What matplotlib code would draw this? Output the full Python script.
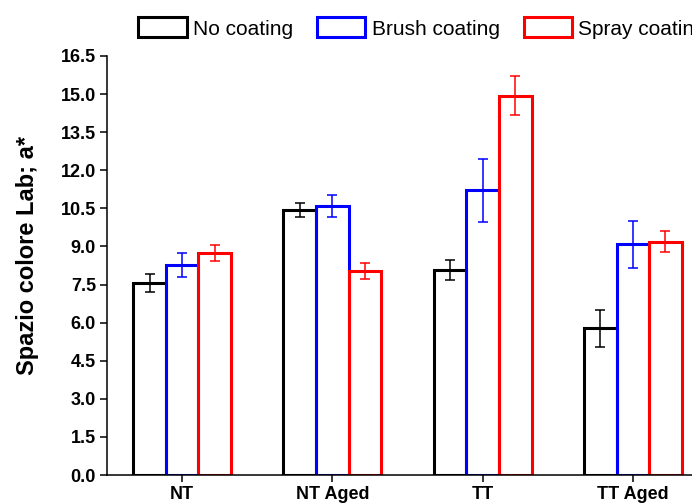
import numpy as np
import matplotlib
matplotlib.use("Agg")
import matplotlib.pyplot as plt

plt.rcParams['font.family'] = ['Liberation Sans', 'DejaVu Sans']

# data
groups = ["NT", "NT Aged", "TT", "TT Aged"]
series = ["No coating", "Brush coating", "Spray coating"]
no_coating = [7.57, 10.45, 8.07, 5.78]
no_coating_err = [0.35, 0.28, 0.38, 0.73]
brush = [8.27, 10.60, 11.21, 9.08]
brush_err = [0.49, 0.43, 1.25, 0.93]
spray = [8.73, 8.03, 14.93, 9.19]
spray_err = [0.32, 0.31, 0.77, 0.41]
colors = ["#000000", "#0000FF", "#FF0000"]

fig = plt.figure(figsize=(6.92, 5.04), dpi=100)
ax = fig.add_axes([107/692, 29/504, 601/692, 419/504])

x = np.arange(len(groups))
w = 0.217
handles = []
for i, (vals, errs) in enumerate([(no_coating, no_coating_err), (brush, brush_err), (spray, spray_err)]):
    pos = x + (i - 1) * w
    b = ax.bar(pos, vals, w, facecolor="none", edgecolor=colors[i], linewidth=2.2, label=series[i])
    ax.errorbar(pos, vals, yerr=errs, fmt="none", ecolor=colors[i], elinewidth=1.1,
                capsize=3.8, capthick=1.1)
    handles.append(b)

ax.set_xlim(-0.5, 3.5)
ax.set_ylim(0, 16.5)
ax.set_yticks(np.arange(0, 16.6, 1.5))
ax.set_yticklabels(["%.1f" % v for v in np.arange(0, 16.6, 1.5)], fontsize=13, fontweight="bold")
ax.set_xticks(x)
ax.set_xticklabels(groups, fontsize=13, fontweight="bold")
ax.tick_params(direction="out", length=5, width=1.1, pad=3)
ax.set_ylabel("Spazio colore Lab; a*", fontsize=17, fontweight="bold")
ax.yaxis.set_label_coords(-0.113, 0.525)

for s in ["top", "right"]:
    ax.spines[s].set_visible(False)
for s in ["left", "bottom"]:
    ax.spines[s].set_linewidth(1.1)

fig.legend(handles=handles, loc="center left", bbox_to_anchor=(138/692, 1 - 28/504),
           ncol=3, frameon=False, fontsize=15, borderpad=0, handlelength=2.33,
           handleheight=1.1, handletextpad=0.3, columnspacing=1.15, borderaxespad=0)

fig.savefig("out.png", dpi=100)
